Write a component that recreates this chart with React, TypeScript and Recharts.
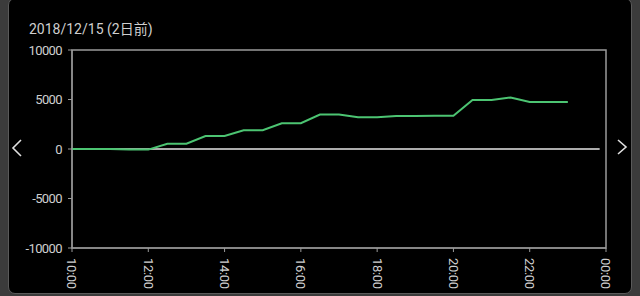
import { LineChart, Line, XAxis, YAxis, ReferenceLine, ReferenceArea } from "recharts";

const times = [
  "10:00", "10:30", "11:00", "11:30", "12:00", "12:30", "13:00", "13:30", "14:00",
  "14:30", "15:00", "15:30", "16:00", "16:30", "17:00", "17:30", "18:00", "18:30",
  "19:00", "19:30", "20:00", "20:30", "21:00", "21:30", "22:00", "22:30", "23:00",
];
const balance = [
  0, 0, 0, -60, -60, 530, 530, 1310, 1310,
  1890, 1890, 2600, 2600, 3480, 3480, 3200, 3200, 3330,
  3340, 3360, 3360, 4950, 4950, 5200, 4750, 4750, 4750,
];
const xTicks = ["10:00", "12:00", "14:00", "16:00", "18:00", "20:00", "22:00", "00:00"];
const yTicks = [-10000, -5000, 0, 5000, 10000];
const title = "2018/12/15 (2日前)";

const toMin = (t: string) => {
  const [h, m] = t.split(":").map(Number);
  const v = h * 60 + m;
  return v < 600 ? v + 1440 : v;
};
const fmt = (v: number) => {
  const h = Math.floor(v / 60) % 24;
  const m = v % 60;
  return `${String(h).padStart(2, "0")}:${String(m).padStart(2, "0")}`;
};

const data = times.map((t, i) => ({ t: toMin(t), v: balance[i] }));
const font = "Roboto, 'Noto Sans CJK JP', sans-serif";

function RotTick(props: any) {
  const { x, y, payload } = props;
  return (
    <g transform={`translate(${x},${y})`}>
      <text
        transform="rotate(90)"
        x={0}
        y={0}
        dy="0.35em"
        textAnchor="start"
        fill="#cfcfcf"
        fontSize={13}
        letterSpacing={-0.3}
        fontFamily={font}
      >
        {fmt(payload.value)}
      </text>
    </g>
  );
}

export default function App() {
  return (
    <div style={{ position: "fixed", left: 0, top: 0, width: 640, height: 296, background: "#3b3b3b", overflow: "hidden" }}>
      <div
        style={{
          position: "absolute",
          left: 8,
          top: -2,
          width: 622,
          height: 294,
          background: "#000",
          border: "1px solid #5a5a5a",
          borderRadius: 7,
        }}
      />
      <div style={{ position: "absolute", left: 29, top: 18, color: "#cfcfcf", fontSize: 14, fontFamily: font }}>
        {title}
      </div>
      <div style={{ position: "absolute", left: 0, top: 0 }}>
        <LineChart width={640} height={296} data={data} margin={{ top: 50, right: 34, bottom: 0, left: 0 }}>
          <XAxis
            dataKey="t"
            type="number"
            domain={[600, 1440]}
            ticks={xTicks.map(toMin)}
            tick={<RotTick />}
            height={48}
            stroke="#9a9a9a"
            tickSize={4}
            tickMargin={6}
          />
          <YAxis
            type="number"
            domain={[-10000, 10000]}
            ticks={yTicks}
            width={72}
            stroke="#9a9a9a"
            tickSize={4}
            tickMargin={6}
            tick={{ fill: "#cfcfcf", fontSize: 13, fontFamily: font, letterSpacing: -0.6 }}
          />
          <ReferenceArea x1={600} x2={1440} y1={-10000} y2={10000} fill="none" stroke="#9a9a9a" strokeWidth={1.5} />
          <ReferenceLine
            segment={[{ x: 600, y: 0 }, { x: 1430, y: 0 }]}
            stroke="#e6e6e6"
            strokeWidth={1.5}
          />
          <Line
            dataKey="v"
            stroke="#4cc472"
            strokeWidth={2}
            dot={false}
            type="linear"
            isAnimationActive={false}
          />
        </LineChart>
      </div>
      <svg width={640} height={296} style={{ position: "absolute", left: 0, top: 0, pointerEvents: "none" }}>
        <polyline points="21,140 13,148 21,156" fill="none" stroke="#e0e0e0" strokeWidth={1.6} />
        <polyline points="618,140 626,147 618,154" fill="none" stroke="#e0e0e0" strokeWidth={1.6} />
      </svg>
    </div>
  );
}
